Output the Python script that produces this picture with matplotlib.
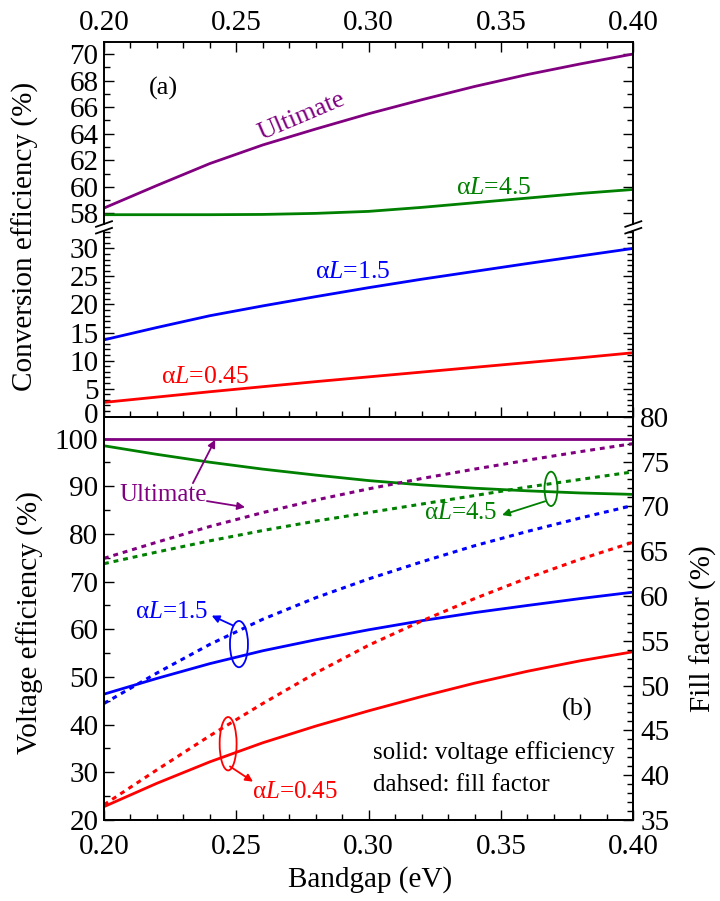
import matplotlib
matplotlib.use("Agg")
import matplotlib.pyplot as plt
from matplotlib.patches import Ellipse
from matplotlib.lines import Line2D
from matplotlib.ticker import MultipleLocator
from matplotlib.transforms import ScaledTranslation

plt.rcParams['font.family'] = ['Liberation Serif', 'DejaVu Serif']
plt.rcParams['mathtext.fontset'] = 'custom'
plt.rcParams['mathtext.rm'] = 'Liberation Serif'
plt.rcParams['mathtext.it'] = 'Liberation Serif:italic'

# Bandgap grid (eV)
bandgap = [0.20, 0.22, 0.24, 0.26, 0.28, 0.30, 0.32, 0.34, 0.36, 0.38, 0.40]

# (a) conversion efficiency (%)
eff_ultimate = [58.4, 60.1, 61.75, 63.15, 64.35, 65.5, 66.55, 67.55, 68.45, 69.25, 70.0]
eff_al45 = [57.9, 57.9, 57.9, 57.92, 58.0, 58.15, 58.45, 58.8, 59.15, 59.5, 59.8]
eff_al15 = [13.7, 15.9, 18.0, 19.75, 21.4, 23.0, 24.5, 25.9, 27.3, 28.65, 30.0]
eff_al045 = [2.55, 3.5, 4.45, 5.35, 6.25, 7.1, 7.95, 8.8, 9.65, 10.5, 11.4]

# (b) voltage efficiency (%)
ve_ultimate = [100.0] * 11
ve_al45 = [98.5, 96.7, 95.05, 93.6, 92.35, 91.2, 90.3, 89.6, 89.05, 88.6, 88.3]
ve_al15 = [46.4, 49.7, 52.8, 55.5, 57.8, 59.9, 61.8, 63.5, 65.0, 66.45, 67.8]
ve_al045 = [22.8, 27.7, 32.2, 36.2, 39.7, 42.9, 45.9, 48.7, 51.2, 53.4, 55.3]

# (b) fill factor (%)
ff_ultimate = [64.2, 66.0, 67.75, 69.3, 70.7, 71.95, 73.1, 74.15, 75.15, 76.1, 77.0]
ff_al45 = [63.6, 64.9, 66.15, 67.3, 68.35, 69.3, 70.25, 71.2, 72.15, 73.0, 73.85]
ff_al15 = [48.0, 51.4, 54.6, 57.4, 59.8, 61.9, 63.8, 65.6, 67.2, 68.7, 70.1]
ff_al045 = [36.7, 40.6, 44.4, 48.0, 51.4, 54.5, 57.2, 59.7, 62.0, 64.1, 66.0]

PURPLE = '#800080'
GREEN = '#008000'
BLUE = '#0000ff'
RED = '#ff0000'

LW = 2.0
DOT = (0, (1.6, 1.6))
FS_TICK = 21
FS_LAB = 21
FS_ANN = 18

fig = plt.figure(figsize=(7.2, 9.01), dpi=100)
left, width = 0.14444, 0.73514
ax_top = fig.add_axes([left, 0.75139, width, 0.20200])
ax_bot = fig.add_axes([left, 0.53751, width, 0.20611])
ax_b = fig.add_axes([left, 0.08990, width, 0.44762])
ax_ff = ax_b.twinx()


def style_axis(ax):
    for s in ax.spines.values():
        s.set_linewidth(1.4)
    ax.tick_params(which='both', direction='in', width=1.0, labelsize=FS_TICK)
    ax.tick_params(which='major', length=7)
    ax.tick_params(which='minor', length=4)
    ax.xaxis.set_major_locator(MultipleLocator(0.05))
    ax.xaxis.set_minor_locator(MultipleLocator(0.01))
    ax.set_xlim(0.2, 0.4)


for ax in (ax_top, ax_bot, ax_b, ax_ff):
    style_axis(ax)

# ---- (a) upper part of the broken axis
ax_top.plot(bandgap, eff_ultimate, color=PURPLE, lw=LW)
ax_top.plot(bandgap, eff_al45, color=GREEN, lw=LW)
ax_top.set_ylim(57.2, 70.9)
ax_top.yaxis.set_major_locator(MultipleLocator(2))
ax_top.yaxis.set_minor_locator(MultipleLocator(1))
ax_top.spines['bottom'].set_visible(False)
ax_top.tick_params(axis='x', which='both', bottom=False, top=True,
                   labelbottom=False, labeltop=True, pad=4)
ax_top.tick_params(axis='y', which='both', left=True, right=True, pad=4)
ax_top.xaxis.set_major_formatter(lambda v, p: f"{v:.2f}")

# ---- (a) lower part of the broken axis
ax_bot.plot(bandgap, eff_al15, color=BLUE, lw=LW)
ax_bot.plot(bandgap, eff_al045, color=RED, lw=LW)
ax_bot.set_ylim(0, 33.1)
ax_bot.yaxis.set_major_locator(MultipleLocator(5))
ax_bot.yaxis.set_minor_locator(MultipleLocator(1))
ax_bot.spines['top'].set_visible(False)
ax_bot.tick_params(axis='x', which='both', bottom=True, top=False, labelbottom=False)
ax_bot.tick_params(axis='y', which='both', left=True, right=True, pad=4)

# break marks on both spines
for xf in (left, left + width):
    for yp in (224.0, 230.7):
        yf = 1 - yp / 901
        fig.add_artist(Line2D([xf - 8 / 720, xf + 8 / 720],
                              [yf - 2.8 / 901, yf + 2.8 / 901],
                              color='black', lw=1.3, transform=fig.transFigure))

ax_top.text(0.2223, 67.44, '(a)', fontsize=19, ha='center', va='center')
ax_top.text(0.2748, 65.28, 'Ultimate', fontsize=19, color=PURPLE,
            ha='center', va='center', rotation=23)
ax_top.text(0.3474, 59.89, r'α$L$=4.5', fontsize=FS_ANN + 0.5, color=GREEN,
            ha='center', va='center')
ax_bot.text(0.2939, 25.83, r'α$L$=1.5', fontsize=FS_ANN + 0.5, color=BLUE,
            ha='center', va='center')
ax_bot.text(0.2382, 7.13, r'α$L$=0.45', fontsize=FS_ANN + 0.5, color=RED,
            ha='center', va='center')

# ---- (b) voltage efficiency (left) and fill factor (right)
ax_b.plot(bandgap, ve_ultimate, color=PURPLE, lw=LW)
ax_b.plot(bandgap, ve_al45, color=GREEN, lw=LW)
ax_b.plot(bandgap, ve_al15, color=BLUE, lw=LW)
ax_b.plot(bandgap, ve_al045, color=RED, lw=LW)
ax_ff.plot(bandgap, ff_ultimate, color=PURPLE, lw=2.2, ls=DOT)
ax_ff.plot(bandgap, ff_al45, color=GREEN, lw=2.2, ls=DOT)
ax_ff.plot(bandgap, ff_al15, color=BLUE, lw=2.2, ls=DOT)
ax_ff.plot(bandgap, ff_al045, color=RED, lw=2.2, ls=DOT)

ax_b.set_ylim(20, 104.6)
ax_b.yaxis.set_major_locator(MultipleLocator(10))
ax_b.yaxis.set_minor_locator(MultipleLocator(5))
ax_b.tick_params(axis='x', which='both', top=False, pad=10)
ax_b.tick_params(axis='y', which='both', right=False, pad=4)
ax_b.xaxis.set_major_formatter(lambda v, p: f"{v:.2f}")

ax_ff.set_ylim(35, 80)
ax_ff.yaxis.set_major_locator(MultipleLocator(5))
ax_ff.yaxis.set_minor_locator(MultipleLocator(1))
ax_ff.tick_params(axis='x', which='both', top=False, bottom=False)
ax_ff.tick_params(axis='y', which='both', pad=5)

arrow_kw = dict(arrowstyle='-|>', lw=1.3, mutation_scale=11, shrinkA=0, shrinkB=0)

ax_b.text(0.2223, 88.1, 'Ultimate', fontsize=FS_ANN, color=PURPLE,
          ha='center', va='center')
ax_b.annotate('', xy=(0.2420, 99.75), xytext=(0.2336, 90.66),
              arrowprops=dict(color=PURPLE, **arrow_kw))
ax_b.annotate('', xy=(0.2533, 85.6), xytext=(0.2389, 86.9),
              arrowprops=dict(color=PURPLE, **arrow_kw))

ax_b.text(0.2255, 63.66, r'α$L$=1.5', fontsize=FS_ANN, color=BLUE,
          ha='center', va='center')
ax_b.add_patch(Ellipse((0.2510, 56.9), 0.0068, 9.7, fill=False,
                       edgecolor=BLUE, lw=1.3))
ax_b.annotate('', xy=(0.2407, 62.87), xytext=(0.2489, 60.77),
              arrowprops=dict(color=BLUE, **arrow_kw))

ax_b.text(0.3346, 84.33, r'α$L$=4.5', fontsize=FS_ANN, color=GREEN,
          ha='center', va='center')
ax_b.add_patch(Ellipse((0.3689, 89.46), 0.0049, 7.2, fill=False,
                       edgecolor=GREEN, lw=1.3))
ax_b.annotate('', xy=(0.3504, 83.97), xytext=(0.3667, 86.86),
              arrowprops=dict(color=GREEN, **arrow_kw))

ax_b.text(0.2722, 25.9, r'α$L$=0.45', fontsize=FS_ANN, color=RED,
          ha='center', va='center')
ax_b.add_patch(Ellipse((0.2469, 36.0), 0.0064, 11.2, fill=False,
                       edgecolor=RED, lw=1.3))
ax_b.annotate('', xy=(0.2563, 28.04), xytext=(0.2476, 31.24),
              arrowprops=dict(color=RED, **arrow_kw))

ax_b.text(0.3788, 43.2, '(b)', fontsize=19, ha='center', va='center')
ax_b.text(0.3017, 34.1, 'solid: voltage efficiency', fontsize=FS_ANN,
          ha='left', va='center')
ax_b.text(0.3017, 27.4, 'dahsed: fill factor', fontsize=FS_ANN,
          ha='left', va='center')

# axis titles
fig.text(25 / 720, 1 - 236 / 901, 'Conversion efficiency (%)', fontsize=FS_LAB,
         rotation=90, ha='center', va='center')
fig.text(30 / 720, 1 - 623 / 901, 'Voltage efficiency (%)', fontsize=FS_LAB,
         rotation=90, ha='center', va='center')
fig.text(703 / 720, 1 - 629 / 901, 'Fill factor (%)', fontsize=FS_LAB,
         rotation=90, ha='center', va='center')
fig.text(370 / 720, 1 - 880 / 901, 'Bandgap (eV)', fontsize=FS_LAB,
         ha='center', va='center')

# lift the "0" label of panel (a) slightly so it clears the "100" below it
fig.canvas.draw()
for tick in ax_bot.yaxis.get_major_ticks():
    if abs(tick.get_loc()) < 1e-9:
        lab = tick.label1
        lab.set_transform(lab.get_transform()
                          + ScaledTranslation(0, 4 / 100, fig.dpi_scale_trans))

fig.savefig('out.png', dpi=100)
